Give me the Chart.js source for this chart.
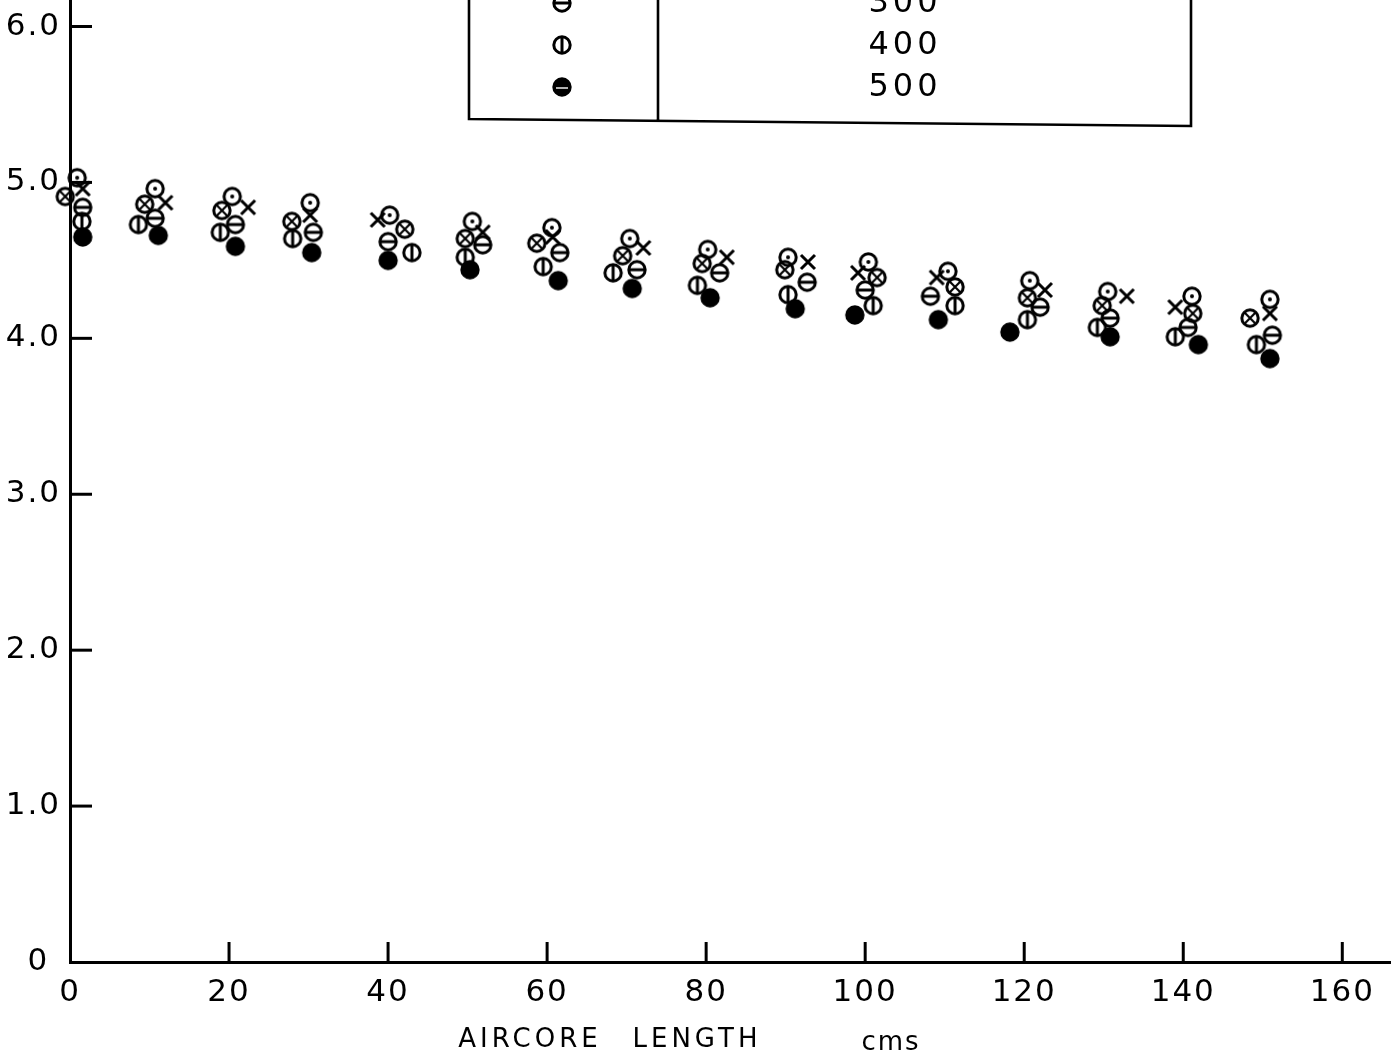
<!DOCTYPE html>
<html>
<head>
<meta charset="utf-8">
<script src="https://cdn.jsdelivr.net/npm/chart.js@4.4.1/dist/chart.umd.min.js"></script>
<style>
html, body { margin: 0; padding: 0; background: #fff; }
#wrap { width: 1399px; height: 1056px; }
</style>
</head>
<body>
<div id="wrap"><canvas id="myChart" width="1399" height="1056"></canvas></div>
<script>
// tick labels
var xTickLabels = ['0', '20', '40', '60', '80', '100', '120', '140', '160'];
var yTickLabels = ['0 ', '1.0', '2.0', '3.0', '4.0', '5.0', '6.0'];

// legend rows that show in the picture (upper rows are cut off)
var legendLabels = ['300', '400', '500'];
var legendMarks = ['minus', 'phi', 'fillbar'];

// series (x = aircore length cms)
var crossX = [1.6, 12.0, 22.4, 30.2, 38.7, 51.9, 60.7, 72.1, 82.6, 92.8, 99.1, 109.0, 122.6, 132.9, 139.0, 150.9];
var crossY = [4.96, 4.87, 4.84, 4.79, 4.76, 4.68, 4.65, 4.58, 4.52, 4.49, 4.42, 4.39, 4.31, 4.27, 4.20, 4.16];

var otimesX = [-0.6, 9.4, 19.1, 27.9, 42.1, 49.7, 58.7, 69.5, 79.5, 89.9, 101.5, 111.3, 120.4, 129.8, 141.2, 148.4];
var otimesY = [4.91, 4.86, 4.82, 4.75, 4.70, 4.64, 4.61, 4.53, 4.48, 4.44, 4.39, 4.33, 4.26, 4.21, 4.16, 4.13];

var odotX = [0.9, 10.7, 20.4, 30.2, 40.2, 50.6, 60.6, 70.4, 80.2, 90.3, 100.4, 110.4, 120.7, 130.5, 141.1, 150.9];
var odotY = [5.03, 4.96, 4.91, 4.87, 4.79, 4.75, 4.71, 4.64, 4.57, 4.52, 4.49, 4.43, 4.37, 4.30, 4.27, 4.25];

var s300X = [1.6, 10.7, 20.8, 30.6, 40.0, 51.9, 61.6, 71.3, 81.7, 92.7, 100.0, 108.2, 122.0, 130.8, 140.6, 151.2];
var s300Y = [4.84, 4.77, 4.73, 4.68, 4.62, 4.60, 4.55, 4.44, 4.42, 4.36, 4.31, 4.27, 4.20, 4.13, 4.07, 4.02];

var s400X = [1.5, 8.6, 18.9, 28.0, 43.0, 49.7, 59.5, 68.3, 78.9, 90.3, 101.0, 111.3, 120.4, 129.2, 139.0, 149.2];
var s400Y = [4.75, 4.73, 4.68, 4.64, 4.55, 4.52, 4.46, 4.42, 4.34, 4.28, 4.21, 4.21, 4.12, 4.07, 4.01, 3.96];

var s500X = [1.6, 11.1, 20.8, 30.4, 40.0, 50.3, 61.4, 70.7, 80.5, 91.2, 98.7, 109.2, 118.2, 130.8, 141.9, 150.9];
var s500Y = [4.65, 4.66, 4.59, 4.55, 4.50, 4.44, 4.37, 4.32, 4.26, 4.19, 4.15, 4.12, 4.04, 4.01, 3.96, 3.87];

// hand drawn style markers
function makeMarker(kind) {
  var c = document.createElement('canvas');
  c.width = 26; c.height = 26;
  var g = c.getContext('2d');
  var m = 13, r = 8.2, d = r * 0.72;
  g.strokeStyle = '#000';
  g.fillStyle = '#000';
  g.lineWidth = 3;
  if (kind === 'cross') {
    g.lineWidth = 3;
    g.beginPath();
    g.moveTo(m - 7, m - 7); g.lineTo(m + 7, m + 7);
    g.moveTo(m + 7, m - 7); g.lineTo(m - 7, m + 7);
    g.stroke();
    return c;
  }
  g.beginPath();
  g.arc(m, m, r, 0, Math.PI * 2);
  if (kind === 'fill' || kind === 'fillbar') {
    g.fill();
    g.stroke();
    if (kind === 'fillbar') {
      g.strokeStyle = '#fff';
      g.lineWidth = 1.4;
      g.beginPath(); g.moveTo(m - 6, m + 1); g.lineTo(m + 6, m + 1); g.stroke();
    }
    return c;
  }
  g.stroke();
  g.beginPath();
  if (kind === 'dot') {
    g.arc(m, m, 2, 0, Math.PI * 2);
    g.fill();
  } else if (kind === 'minus') {
    g.moveTo(m - r, m); g.lineTo(m + r, m); g.stroke();
  } else if (kind === 'phi') {
    g.moveTo(m, m - r); g.lineTo(m, m + r); g.stroke();
  } else if (kind === 'otimes') {
    g.lineWidth = 2.2;
    g.moveTo(m - d, m - d); g.lineTo(m + d, m + d);
    g.moveTo(m + d, m - d); g.lineTo(m - d, m + d);
    g.stroke();
  }
  return c;
}

function pts(xs, ys) {
  return xs.map(function (x, i) { return { x: x, y: ys[i] }; });
}

function series(label, xs, ys, kind) {
  return {
    label: label,
    data: pts(xs, ys),
    pointStyle: makeMarker(kind),
    pointRadius: 10,
    showLine: false,
    clip: false
  };
}

// axis ticks drawn inward, axis title, legend box
var paperMarks = {
  id: 'paperMarks',
  beforeDraw: function (chart) {
    chart.ctx.letterSpacing = '2px';
  },
  afterDraw: function (chart) {
    var ctx = chart.ctx, xs = chart.scales.x, ys = chart.scales.y;
    var area = chart.chartArea;
    ctx.save();
    ctx.strokeStyle = '#000';
    ctx.fillStyle = '#000';
    ctx.lineWidth = 3;
    ys.ticks.forEach(function (t) {
      if (t.value === 0) return;
      var py = ys.getPixelForValue(t.value);
      ctx.beginPath(); ctx.moveTo(area.left, py); ctx.lineTo(area.left + 22, py); ctx.stroke();
    });
    xs.ticks.forEach(function (t) {
      if (t.value === 0) return;
      var px = xs.getPixelForValue(t.value);
      ctx.beginPath(); ctx.moveTo(px, area.bottom); ctx.lineTo(px, area.bottom - 20); ctx.stroke();
    });

    // x axis title
    ctx.font = '26px "DejaVu Sans"';
    ctx.letterSpacing = '4px';
    ctx.textAlign = 'center';
    ctx.textBaseline = 'middle';
    ctx.fillText('AIRCORE', 530, 1040);
    ctx.fillText('LENGTH', 697, 1040);
    ctx.letterSpacing = '2px';
    ctx.fillText('cms', 891, 1043);

    // legend box
    ctx.lineWidth = 2.6;
    ctx.beginPath();
    ctx.moveTo(469, -5); ctx.lineTo(469, 119); ctx.lineTo(1191, 126); ctx.lineTo(1191, -5);
    ctx.moveTo(658, -5); ctx.lineTo(658, 122);
    ctx.stroke();
    ctx.font = '32px "DejaVu Sans"';
    ctx.letterSpacing = '4px';
    legendLabels.forEach(function (lab, i) {
      var yy = 3 + i * 42;
      ctx.drawImage(makeMarker(legendMarks[i]), 562 - 13, yy - 13);
      ctx.fillText(lab, 905, yy + 1);
    });
    ctx.restore();
  }
};

Chart.defaults.font.family = '"DejaVu Sans"';
Chart.defaults.color = '#000';

new Chart('myChart', {
  type: 'scatter',
  data: {
    datasets: [
      series('x', crossX, crossY, 'cross'),
      series('otimes', otimesX, otimesY, 'otimes'),
      series('odot', odotX, odotY, 'dot'),
      series('300', s300X, s300Y, 'minus'),
      series('400', s400X, s400Y, 'phi'),
      series('500', s500X, s500Y, 'fill')
    ]
  },
  options: {
    responsive: false,
    animation: false,
    layout: { autoPadding: false, padding: { top: 0, left: 0, right: 9, bottom: 0 } },
    plugins: {
      legend: { display: false },
      tooltip: { enabled: false },
      title: { display: false }
    },
    scales: {
      x: {
        type: 'linear',
        min: 0,
        max: 166,
        grid: { display: false, drawTicks: false },
        border: { display: true, color: '#000', width: 3 },
        ticks: {
          stepSize: 20,
          includeBounds: false,
          padding: 12,
          maxRotation: 0,
          font: { size: 31 },
          callback: function (v) { return xTickLabels[Math.round(v / 20)]; }
        },
        afterFit: function (s) { s.height = 94; s.paddingLeft = 0; s.paddingRight = 0; }
      },
      y: {
        type: 'linear',
        min: 0,
        max: 6.17,
        grid: { display: false, drawTicks: false },
        border: { display: true, color: '#000', width: 3 },
        ticks: {
          stepSize: 1,
          includeBounds: false,
          padding: 9,
          font: { size: 31 },
          callback: function (v) { return yTickLabels[Math.round(v)]; }
        },
        afterFit: function (s) { s.width = 70; s.paddingTop = 0; s.paddingBottom = 0; }
      }
    }
  },
  plugins: [paperMarks]
});
</script>
</body>
</html>
